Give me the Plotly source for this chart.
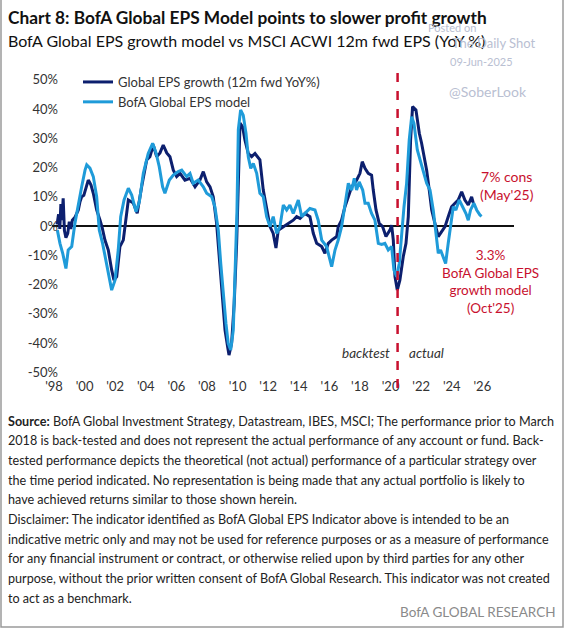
"""
Chart 8 : BofA Global EPS Model vs MSCI ACWI 12m fwd EPS (YoY %).
Reproduction Plotly, sortie out.html (564 x 629).
"""
import plotly.graph_objects as go

# ---------------------------------------------------------------------------
# Données (en années décimales / %)
# ---------------------------------------------------------------------------
annees_eps = [
    1998.20, 1998.30, 1998.38, 1998.45, 1998.52, 1998.60, 1998.68, 1998.78, 1998.90, 1999.00,
    1999.10, 1999.20, 1999.37, 1999.59, 1999.70, 1999.81, 1999.95, 2000.14, 2000.24, 2000.31,
    2000.42, 2000.57, 2000.79, 2001.01, 2001.15, 2001.33, 2001.55, 2001.77, 2001.92, 2002.10,
    2002.20, 2002.31, 2002.53, 2002.71, 2002.86, 2003.18, 2003.44, 2003.73, 2004.06, 2004.27,
    2004.49, 2004.71, 2004.93, 2005.14, 2005.37, 2005.58, 2005.80, 2006.02, 2006.24, 2006.56,
    2006.89, 2007.22, 2007.54, 2007.76, 2007.98, 2008.20, 2008.41, 2008.63, 2008.85, 2009.03,
    2009.18, 2009.35, 2009.44, 2009.61, 2009.78, 2009.94, 2010.11, 2010.16, 2010.33, 2010.48,
    2010.70, 2010.92, 2011.14, 2011.46, 2011.68, 2011.90, 2012.12, 2012.33, 2012.51, 2012.66,
    2012.99, 2013.31, 2013.64, 2013.86, 2014.08, 2014.41, 2014.73, 2014.95, 2015.17, 2015.50,
    2015.71, 2015.93, 2016.15, 2016.48, 2016.58, 2016.80, 2017.02, 2017.24, 2017.46, 2017.78,
    2018.00, 2018.15, 2018.33, 2018.54, 2018.76, 2018.87, 2019.05, 2019.26, 2019.48, 2019.70,
    2019.96, 2020.07, 2020.18, 2020.29, 2020.44, 2020.61, 2020.83, 2021.01, 2021.16, 2021.31,
    2021.44, 2021.66, 2021.88, 2022.03, 2022.18, 2022.36, 2022.53, 2022.69, 2022.90, 2023.12,
    2023.34, 2023.56, 2023.77, 2023.99, 2024.21, 2024.42, 2024.65, 2024.86, 2025.08, 2025.30,
    2025.41,
]
croissance_eps = [
    0.5, 4.0, -1.0, 7.5, 2.0, 9.5, -1.5, -4.0, -2.5, 1.5,
    -1.0, 2.0, 3.0, 5.5, 8.3, 10.0, 10.5, 13.4, 15.7, 15.1,
    14.0, 11.2, 5.5, 2.0, -0.5, -4.8, -8.2, -15.0, -18.5, -17.3,
    -12.0, -7.0, -4.8, 3.2, 8.9, 7.9, 4.4, 13.4, 22.6, 23.7,
    27.7, 23.7, 25.0, 27.7, 25.0, 23.7, 19.1, 16.9, 18.0, 15.7,
    16.3, 13.4, 15.7, 18.6, 15.1, 13.4, 10.0, 0.9, -12.8, -26.4,
    -35.6, -41.3, -44.1, -40.1, -26.4, -5.9, 29.4, 35.2, 33.9, 29.4,
    24.8, 23.7, 24.8, 22.6, 12.3, 5.5, -0.2, -2.5, -7.5, -1.4,
    -0.2, 0.9, 2.0, 3.2, 2.6, 4.3, 3.2, -2.5, -5.9, -7.0,
    -9.3, -5.9, -4.8, -3.6, -0.2, 2.0, 6.6, 10.0, 13.4, 15.7,
    18.0, 22.0, 19.7, 18.0, 17.4, 12.3, 5.5, 0.9, -0.2, -3.6,
    -1.4, 0.3, -4.8, -17.3, -21.9, -18.5, -10.5, -5.9, 3.2, 29.4,
    40.8, 39.7, 31.7, 28.3, 23.7, 19.1, 12.3, 5.5, 0.9, -3.6,
    -1.9, -0.2, 3.2, 6.6, 7.8, 8.9, 11.7, 8.9, 7.2, 10.0,
    7.8,
]

annees_modele = [
    1998.22, 1998.39, 1998.57, 1998.78, 1998.93, 1999.16, 1999.37, 1999.59, 1999.81, 2000.03,
    2000.14, 2000.35, 2000.57, 2000.79, 2000.96, 2001.18, 2001.40, 2001.61, 2001.77, 2001.99,
    2002.20, 2002.36, 2002.58, 2002.86, 2003.08, 2003.36, 2003.58, 2003.84, 2004.16, 2004.45,
    2004.67, 2004.88, 2005.10, 2005.25, 2005.54, 2005.80, 2006.12, 2006.35, 2006.67, 2006.89,
    2007.10, 2007.43, 2007.76, 2007.98, 2008.31, 2008.52, 2008.74, 2008.90, 2009.07, 2009.24,
    2009.39, 2009.55, 2009.72, 2009.84, 2009.96, 2010.05, 2010.20, 2010.37, 2010.55, 2010.70,
    2010.86, 2011.03, 2011.25, 2011.46, 2011.68, 2011.90, 2012.12, 2012.33, 2012.56, 2012.77,
    2012.99, 2013.21, 2013.42, 2013.64, 2013.97, 2014.19, 2014.41, 2014.73, 2015.06, 2015.27,
    2015.50, 2015.82, 2016.04, 2016.15, 2016.37, 2016.58, 2016.80, 2017.02, 2017.24, 2017.46,
    2017.63, 2017.78, 2017.95, 2018.18, 2018.33, 2018.54, 2018.76, 2018.98, 2019.20, 2019.42,
    2019.63, 2019.85, 2020.07, 2020.22, 2020.40, 2020.57, 2020.73, 2020.88, 2021.05, 2021.22,
    2021.38, 2021.53, 2021.75, 2021.92, 2022.14, 2022.36, 2022.58, 2022.79, 2022.97, 2023.12,
    2023.27, 2023.44, 2023.60, 2023.77, 2023.93, 2024.10, 2024.27, 2024.49, 2024.71, 2024.93,
    2025.08, 2025.23, 2025.45, 2025.63, 2025.84, 2025.95,
]
modele_bofa = [
    -1.4, -5.9, -9.3, -14.5, -8.2, -7.0, 1.0, 7.8, 13.4, 19.1,
    20.9, 19.8, 16.9, 10.0, -1.4, -6.0, -11.6, -17.3, -21.9, -18.5,
    -8.2, 3.2, 8.9, 12.9, 10.6, 4.9, 8.3, 18.0, 24.8, 28.3,
    25.0, 20.3, 13.4, 11.2, 15.7, 17.4, 18.6, 19.1, 16.9, 18.0,
    14.6, 15.7, 13.4, 11.2, 10.0, 6.6, -1.4, -12.8, -24.2, -33.3,
    -40.1, -42.4, -35.6, -17.3, 5.0, 33.0, 39.7, 37.9, 31.7, 23.7,
    19.7, 21.4, 18.0, 11.2, 10.0, 3.2, -0.2, 3.2, -2.5, -0.2,
    7.2, 5.5, 7.2, 4.3, 8.9, 3.2, 4.3, 6.0, 5.5, 2.0,
    -4.8, -7.0, -11.6, -13.9, -8.2, -4.8, -0.2, 6.6, 14.6, 12.3,
    16.3, 12.3, 15.1, 12.3, 7.8, 7.8, 4.3, 2.0, -5.9, -6.3,
    -5.9, -8.2, -7.0, -15.0, -17.3, -12.8, -1.4, 6.6, 14.6, 29.4,
    37.4, 35.1, 26.0, 22.6, 18.0, 14.6, 12.3, 5.5, -2.5, -9.3,
    -8.2, -10.5, -12.8, -5.9, 0.9, 6.6, 5.5, 8.9, 6.6, 4.3,
    2.0, 5.5, 7.8, 5.5, 3.8, 3.3,
]

ticks_annees = list(range(1998, 2027, 2))
ticks_labels = ["'98", "'00", "'02", "'04", "'06", "'08", "'10", "'12",
                "'14", "'16", "'18", "'20", "'22", "'24", "'26"]
ticks_y = [-50, -40, -30, -20, -10, 0, 10, 20, 30, 40, 50]
date_rupture = 2020.46   # backtest / actual

lignes_source = [
    "<b>Source:</b> BofA Global Investment Strategy, Datastream, IBES, MSCI; The performance prior to March",
    "2018 is back-tested and does not represent the actual performance of any account or fund. Back-",
    "tested performance depicts the theoretical (not actual) performance of a particular strategy over",
    "the time period indicated. No representation is being made that any actual portfolio is likely to",
    "have achieved returns similar to those shown herein.",
    "Disclaimer: The indicator identified as BofA Global EPS Indicator above is intended to be an",
    "indicative metric only and may not be used for reference purposes or as a measure of performance",
    "for any financial instrument or contract, or otherwise relied upon by third parties for any other",
    "purpose, without the prior written consent of BofA Global Research. This indicator was not created",
    "to act as a benchmark.",
]

# ---------------------------------------------------------------------------
# Charte
# ---------------------------------------------------------------------------
POLICE = "Lato, sans-serif"
MARINE = "#0c1f6e"
CIEL = "#1f9bd9"
ROUGE = "#c8102e"
ENCRE = "#222222"
FILIGRANE = "#b9c0d2"

W, H = 564, 629
M = dict(l=52, r=50, t=72, b=252)


def px(x):
    """pixels horizontaux -> coordonnées paper"""
    return (x - M["l"]) / (W - M["l"] - M["r"])


def py(y):
    """pixels verticaux (depuis le haut) -> coordonnées paper"""
    return (H - M["b"] - y) / (H - M["t"] - M["b"])


fig = go.Figure()
fig.add_trace(go.Scatter(x=annees_eps, y=croissance_eps, mode="lines",
                         name="Global EPS growth (12m fwd YoY%)",
                         line=dict(color=MARINE, width=3)))
fig.add_trace(go.Scatter(x=annees_modele, y=modele_bofa, mode="lines",
                         name="BofA Global EPS model",
                         line=dict(color=CIEL, width=3)))

fig.update_layout(
    width=W, height=H, margin=M,
    paper_bgcolor="white", plot_bgcolor="white",
    font=dict(family=POLICE, size=13, color=ENCRE),
    showlegend=True,
    legend=dict(x=px(78), y=py(67), xanchor="left", yanchor="top",
                bgcolor="rgba(0,0,0,0)", font=dict(size=13, color="#333333"),
                tracegroupgap=0, itemwidth=30),
    xaxis=dict(range=[1997.87, 2028.07], tickvals=ticks_annees, ticktext=ticks_labels,
               showgrid=False, zeroline=False, showline=False, ticks="",
               automargin=False, tickfont=dict(size=13, color="#333333")),
    yaxis=dict(range=[-51.6, 52.65], tickvals=ticks_y,
               ticktext=[f"{v}%" for v in ticks_y],
               showgrid=False, zeroline=True, zerolinecolor="#111111", zerolinewidth=1.5,
               showline=False, ticks="", ticklabelstandoff=-7, automargin=False,
               tickfont=dict(size=13, color="#333333")),
)

# ligne de rupture backtest / actual
fig.add_shape(type="line", xref="x", yref="paper", x0=date_rupture, x1=date_rupture,
              y0=py(388), y1=py(68), line=dict(color=ROUGE, width=2.5, dash="dash"))

# cadre gris autour de l'image
fig.add_shape(type="path", xref="paper", yref="paper",
              path=f"M {px(1)} {py(0)} L {px(1)} {py(627)} L {px(563)} {py(627)} L {px(563)} {py(0)}",
              line=dict(color="#9a9a9a", width=1.5))


def texte(x, y, t, size, color=ENCRE, xanchor="center", align="center", **kw):
    fig.add_annotation(x=px(x), y=py(y), xref="paper", yref="paper", text=t,
                       showarrow=False, xanchor=xanchor, yanchor="middle", align=align,
                       font=dict(size=size, color=color, family=POLICE), **kw)


# titres
texte(6, 17, "<b>Chart 8: BofA Global EPS Model points to slower profit growth</b>", 17.3,
      color="#111111", xanchor="left", align="left")
texte(6, 41, "BofA Global EPS growth model vs MSCI ACWI 12m fwd EPS (YoY %)", 16,
      color="#111111", xanchor="left", align="left")

# filigrane
texte(452, 27, "Posted on", 11, color=FILIGRANE)
texte(494, 43, "The Daily Shot", 13, color=FILIGRANE)
texte(481, 62, "09-Jun-2025", 11, color=FILIGRANE)
texte(488, 91, "@SoberLook", 14, color=FILIGRANE)

# annotations en rouge
texte(507, 185, "7% cons<br>(May'25)", 14, color=ROUGE)
texte(490, 281, "3.3%<br>BofA Global EPS<br>growth model<br>(Oct'25)", 13.5, color=ROUGE)
texte(366, 353, "<i>backtest</i>", 13.5, color="#333333")
texte(426, 353, "<i>actual</i>", 13.5, color="#333333")

# source / avertissement, une annotation par ligne pour tenir l'interligne
for i, ligne in enumerate(lignes_source):
    texte(6, 421 + i * 19.7, ligne, 12.6, color="#222222", xanchor="left", align="left")
texte(557, 612, "BofA GLOBAL RESEARCH", 13.5, color="#8a8a8a", xanchor="right", align="right")

# la page HTML par défaut garde la marge de 8 px du <body> : on la retire
fig.write_html("out.html", config={"displayModeBar": False},
               post_script="document.body.style.margin='0';")
